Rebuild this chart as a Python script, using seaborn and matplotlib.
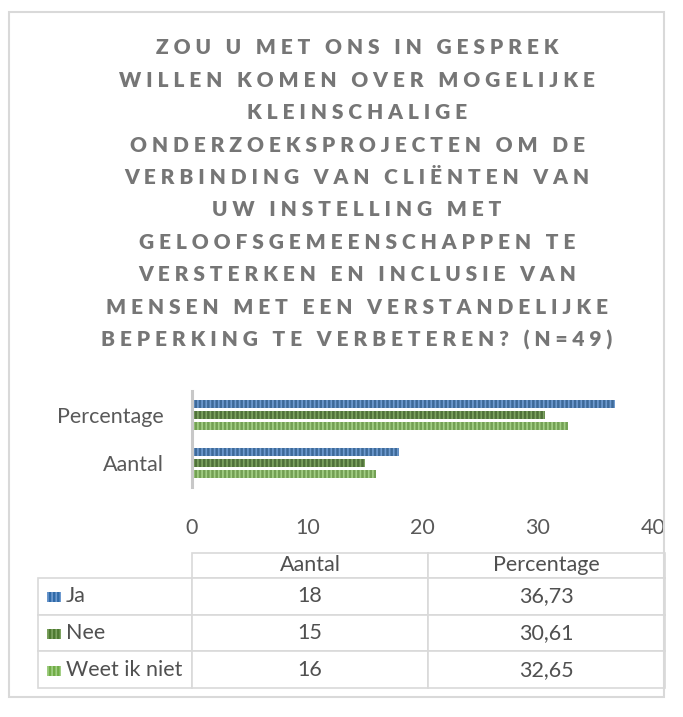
import pandas as pd
import seaborn as sns
import matplotlib.pyplot as plt
from matplotlib.patches import Rectangle

# Data
antwoorden = ['Ja', 'Nee', 'Weet ik niet']
aantal = [18, 15, 16]
percentage = [36.73, 30.61, 32.65]
percentage_labels = ['36,73', '30,61', '32,65']
categorieen = ['Percentage', 'Aantal']
kleuren = ['#2f6aa8', '#4e7a31', '#71ad47']
streep_kleuren = ['#6f9bd0', '#7ea462', '#a3cf86']

titel_regels = [
    'ZOU U MET ONS IN GESPREK',
    'WILLEN KOMEN OVER MOGELIJKE',
    'KLEINSCHALIGE',
    'ONDERZOEKSPROJECTEN OM DE',
    'VERBINDING VAN CLIËNTEN VAN',
    'UW INSTELLING MET',
    'GELOOFSGEMEENSCHAPPEN TE',
    'VERSTERKEN EN INCLUSIE VAN',
    'MENSEN MET EEN VERSTANDELIJKE',
    'BEPERKING TE VERBETEREN? (N=49)',
]

df = pd.DataFrame({
    'antwoord': antwoorden * 2,
    'categorie': ['Percentage'] * 3 + ['Aantal'] * 3,
    'waarde': percentage + aantal,
})

sns.set_style('white')
plt.rcParams['font.family'] = ['Lato', 'DejaVu Sans']
plt.rcParams['hatch.linewidth'] = 1.2

fig = plt.figure(figsize=(6.83, 7.17), dpi=100)

# rand rond de grafiek
fig.patches.append(Rectangle((9 / 683, 1 - 697 / 717), 655 / 683, 685 / 717,
                             transform=fig.transFigure, fill=False,
                             edgecolor='#d9d9d9', linewidth=1.5))

# titel met letterafstand
for i, regel in enumerate(titel_regels):
    tekst = '   '.join(' '.join(woord) for woord in regel.split(' '))
    fig.text(357 / 683, 1 - (48 + i * 32.4) / 717, tekst, ha='center', va='center',
             fontsize=15, fontweight='heavy', color='#767676')

# staafdiagram
ax = fig.add_axes([192 / 683, 1 - 487 / 717, 461 / 683, 96 / 717])
sns.barplot(data=df, x='waarde', y='categorie', hue='antwoord', order=categorieen,
            hue_order=antwoorden, palette=kleuren, orient='h', width=0.7, gap=0.3,
            legend=False, ax=ax)
for container, sk in zip(ax.containers, streep_kleuren):
    for bar in container:
        bar.set_hatch('||||')
        bar.set_edgecolor(sk)
        bar.set_linewidth(0)

ax.set_xlim(0, 40)
ax.set_xticks([0, 10, 20, 30, 40])
ax.set_xlabel('')
ax.set_ylabel('')
for s in ['top', 'right', 'bottom']:
    ax.spines[s].set_visible(False)
ax.spines['left'].set_color('#c8c8c8')
ax.spines['left'].set_linewidth(2.2)
ax.tick_params(axis='x', length=0, pad=22, labelsize=15.5, labelcolor='#595959')
ax.tick_params(axis='y', length=0, pad=20, labelsize=15.5, labelcolor='#595959')

# datatabel
tax = fig.add_axes([38 / 683, 1 - 688 / 717, 627 / 683, 135 / 717])
tax.axis('off')
cel_tekst = [['', 'Aantal', 'Percentage']]
for a, n, p in zip(antwoorden, aantal, percentage_labels):
    cel_tekst.append([a, str(n), p])
kol_breedte = [154 / 627, 236 / 627, 237 / 627]
tabel = tax.table(cellText=cel_tekst, colWidths=kol_breedte, bbox=[0, 0, 1, 1],
                  cellLoc='center')
tabel.auto_set_font_size(False)
tabel.set_fontsize(15.5)
for (r, c), cel in tabel.get_celld().items():
    cel.set_edgecolor('#d9d9d9')
    cel.set_linewidth(1.2)
    cel.get_text().set_color('#505050')
    cel.set_height(25 if r == 0 else 37)
    if c == 0:
        cel.get_text().set_ha('left')
        cel.PAD = 28 / 154
        if r == 0:
            cel.visible_edges = ''

# legendasleutels in de tabel
rij_h = 37 / 135
for i, (k, sk) in enumerate(zip(kleuren, streep_kleuren)):
    midden = 1 - (25 / 135) - (i + 0.5) * rij_h
    tax.add_patch(Rectangle((9 / 627, midden - 5 / 135), 14 / 627, 10 / 135,
                            facecolor=k, edgecolor=sk, hatch='||||', linewidth=0,
                            transform=tax.transAxes))

plt.savefig('out.png', dpi=100)
